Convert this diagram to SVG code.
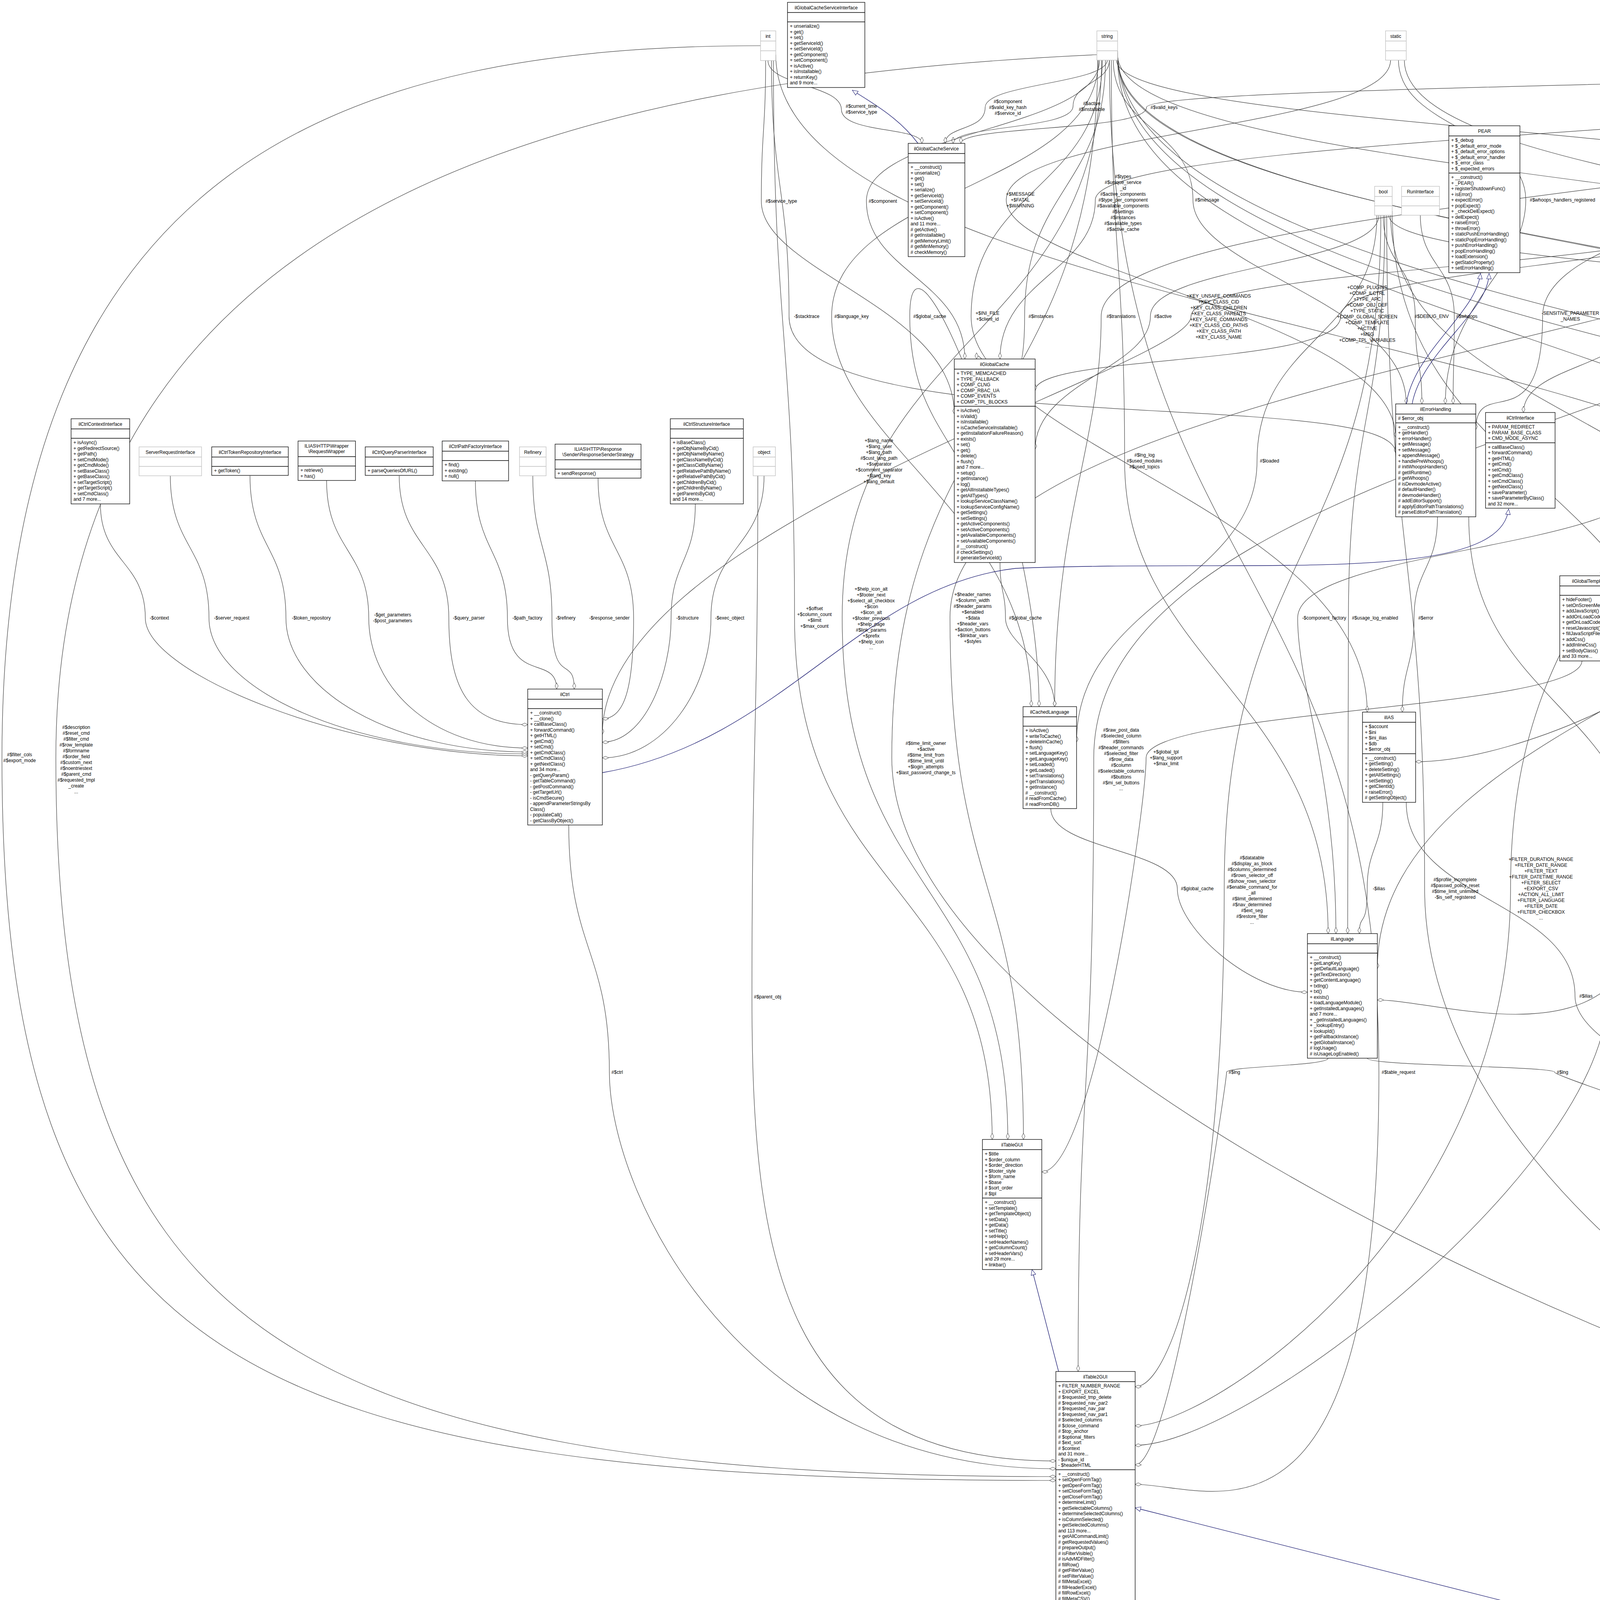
<svg xmlns="http://www.w3.org/2000/svg" width="7576" height="4387" viewBox="0 0 7576 4387">
<style>
text{font-family:"Liberation Sans",Arial,sans-serif;font-size:12px;fill:#000}
.t{text-anchor:middle}
.l{text-anchor:middle}
.b{fill:#fff;stroke:#000;stroke-width:1.3}
.g{fill:#fff;stroke:#bfbfbf;stroke-width:1.3}
.s{stroke:#000;stroke-width:1.3}
.sg{stroke:#bfbfbf;stroke-width:1.3}
.f{fill:#bfbfbf;stroke:#000;stroke-width:1.3}
.e path{fill:none;stroke:#404040;stroke-width:1.2;marker-end:url(#d)}
.i path{fill:none;stroke:#191970;stroke-width:1.3;marker-end:url(#t)}
</style>
<defs>
<marker id="d" markerWidth="18" markerHeight="10" refX="17" refY="5" orient="auto" markerUnits="userSpaceOnUse"><path d="M1,5 L9,1 L17,5 L9,9 Z" fill="#fff" stroke="#404040"/></marker>
<marker id="t" markerWidth="16" markerHeight="14" refX="15" refY="7" orient="auto" markerUnits="userSpaceOnUse"><path d="M1,1 L15,7 L1,13 Z" fill="#fff" stroke="#191970"/></marker>
</defs>
<rect width="7576" height="4387" fill="#fff"/>

<g id="connectors">
<g class="e">
<path d="M1966,155 C1966,218 2154,218 2154,280 S2360,324 2360,367"/>
<path d="M2835,153 C2835,214 2522,214 2522,275 S2420,321 2420,367"/>
<path d="M2840,153 C2840,212 2747,212 2747,272 S2440,320 2440,367"/>
<path d="M5378,153 C5378,214 2935,214 2935,275 S2460,321 2460,367"/>
<path d="M1960,155 C1960,335 1949,335 1949,515 S2443,788 2443,1060"/>
<path d="M2815,153 C2815,334 2218,334 2218,515 S2470,717 2470,919"/>
<path d="M3560,153 C3560,332 2576,332 2576,512 S3573,816 3573,1120"/>
<path d="M5365,153 C5365,332 2804,332 2804,512 S2560,716 2560,919"/>
<path d="M2850,153 C2850,332 3054,332 3054,512 S3600,773 3600,1034"/>
<path d="M3580,153 C3580,332 3906,332 3906,512 S3700,773 3700,1034"/>
<path d="M2858,153 C2858,332 4808,332 4808,512 S5030,780 5030,1048"/>
<path d="M5370,153 C5370,333 5077,333 5077,513 S5080,780 5080,1048"/>
<path d="M5390,153 C5390,332 5369,332 5369,512 S5300,784 5300,1056"/>
<path d="M1975,155 C1975,482 2020,482 2020,810 S3573,985 3573,1160"/>
<path d="M2812,153 C2812,482 2129,482 2129,810 S2640,1310 2640,1809"/>
<path d="M2520,1440 C2520,1128 2329,1128 2329,810 S2660,1310 2660,1809"/>
<path d="M2822,153 C2822,482 2486,482 2486,810 S3500,1316 3500,1823"/>
<path d="M2830,153 C2830,482 2623,482 2623,810 S2500,865 2500,919"/>
<path d="M5360,153 C5360,482 2819,482 2819,810 S2700,1310 2700,1809"/>
<path d="M3530,550 C3530,680 2945,680 2945,810 S2650,980 2650,1150"/>
<path d="M4420,550 C4420,680 3049,680 3049,810 S1542,1345 1542,1880"/>
<path d="M4425,550 C4425,680 3432,680 3432,810 S2650,905 2650,1000"/>
<path d="M3541,550 C3541,680 3623,680 3623,810 S3640,922 3640,1034"/>
<path d="M3636,550 C3636,680 3723,680 3723,810 S3720,922 3720,1034"/>
<path d="M5395,153 C5395,482 3949,482 3949,810 S3778,955 3778,1100"/>
<path d="M4440,550 C4440,680 4191,680 4191,810 S3900,933 3900,1056"/>
<path d="M4455,550 C4455,680 4437,680 4437,810 S4100,1142 4100,1474"/>
<path d="M3555,550 C3555,680 4822,680 4822,810 S5050,929 5050,1048"/>
<path d="M2845,153 C2845,666 2879,666 2879,1180 S3400,1785 3400,2390"/>
<path d="M3525,550 C3525,865 3218,865 3218,1180 S2756,1540 2756,1900"/>
<path d="M4460,550 C4460,865 4569,865 4569,1180 S5090,1515 5090,1850"/>
<path d="M5358,153 C5358,666 4819,666 4819,1180 S3526,1830 3526,2480"/>
<path d="M3595,153 C3595,482 5136,482 5136,810 S5340,933 5340,1056"/>
<path d="M6330,639 C6330,725 5365,725 5365,810 S5150,1283 5150,1756"/>
<path d="M2861,140 C2861,475 5415,475 5415,810 S5200,1283 5200,1756"/>
<path d="M5400,153 C5400,482 5575,482 5575,810 S5250,1283 5250,1756"/>
<path d="M5404,150 C5404,480 5833,480 5833,810 S6060,1348 6060,1887"/>
<path d="M6213,552 L6213,1072"/>
<path d="M5404,140 C5404,475 6666,475 6666,810 S6500,1265 6500,1721"/>
<path d="M2861,145 C2861,662 5604,662 5604,1180 S5680,1787 5680,2395"/>
<path d="M2861,150 C2861,665 5666,665 5666,1180 S5720,1787 5720,2395"/>
<path d="M5404,145 C5404,662 5997,662 5997,1180 S5760,1787 5760,2395"/>
<path d="M6400,639 C6400,910 6317,910 6317,1180 S5849,1815 5849,2450"/>
<path d="M4466,520 C4466,850 6394,850 6394,1180 S6540,1450 6540,1721"/>
<path d="M6520,639 C6520,910 6572,910 6572,1180 S6580,1450 6580,1721"/>
<path d="M4466,540 C4466,1060 5453,1060 5453,1580 S5652,2040 5652,2500"/>
<path d="M5074,1309 C5074,1449 5098,1449 5098,1582 S5110,1669 5110,1756"/>
<path d="M5330,1303 C5330,1445 5257,1445 5257,1582 S5307,1716 5307,1850"/>
<path d="M5450,1303 C5450,1445 5727,1445 5727,1582 S6040,1735 6040,1887"/>
<path d="M6350,635 C6350,1110 5890,1110 5890,1582 S6080,1735 6080,1887"/>
<path d="M6170,1290 C6170,1438 6148,1438 6148,1582 S6110,1735 6110,1887"/>
<path d="M6220,1290 C6220,1438 6345,1438 6345,1582 S6374,1681 6374,1780"/>
<path d="M6540,635 C6540,1110 6630,1110 6630,1582 S6600,2003 6600,2424"/>
<path d="M5404,130 C5404,856 6835,856 6835,1582 S5849,2741 5849,3900"/>
<path d="M6160,1290 C6160,1617 5610,1617 5610,1940 S5660,2168 5660,2395"/>
<path d="M6190,1290 C6190,1617 5950,1617 5950,1940 S5849,2220 5849,2500"/>
<path d="M6240,1290 C6240,1617 6308,1617 6308,1940 S6520,2182 6520,2424"/>
<path d="M6548,635 C6548,1290 6680,1290 6680,1940 S5866,2445 5866,2950"/>
<path d="M2861,135 C2861,1038 6818,1038 6818,1940 S5849,2845 5849,3750"/>
<path d="M5404,135 C5404,1038 6994,1038 6994,1940 S5849,2870 5849,3800"/>
<path d="M5404,128 C5404,1034 7182,1034 7182,1940 S5849,2885 5849,3830"/>
<path d="M2861,130 C2861,1035 7364,1035 7364,1940 S6947,2865 6947,3790"/>
<path d="M5404,125 C5404,1033 7495,1033 7495,1940 S6947,2875 6947,3810"/>
<path d="M5750,2047 L5750,2395"/>
<path d="M6070,1989 C6070,2135 5980,2135 5980,2275 S5849,2412 5849,2550"/>
<path d="M6250,1290 C6250,1785 6240,1785 6240,2275 S5866,2588 5866,2900"/>
<path d="M6540,2156 C6540,2219 6530,2219 6530,2275 S6580,2350 6580,2424"/>
<path d="M5200,2119 C5200,2339 5540,2339 5540,2550 S5636,2735 5636,2920"/>
<path d="M6100,1989 C6100,2273 6080,2273 6080,2550 S5866,2775 5866,3000"/>
<path d="M6450,2156 C6450,2357 6405,2357 6405,2550 S5866,2800 5866,3050"/>
<path d="M5750,2698 L5750,2777"/>
<path d="M6520,2671 C6520,2712 6405,2712 6405,2745 S5866,2922 5866,3100"/>
<path d="M6800,3900 C6800,4064 5750,4064 5750,4225 S5300,4330 4905,4330"/>
<path d="M257,1290 C257,1438 372,1438 372,1582 S900,1935 1351,1935"/>
<path d="M436,1218 C436,1400 535,1400 535,1582 S900,1930 1351,1930"/>
<path d="M640,1218 C640,1400 732,1400 732,1582 S1000,1925 1351,1925"/>
<path d="M836,1230 C836,1409 944,1409 944,1582 S1100,1915 1351,1915"/>
<path d="M1022,1218 C1022,1400 1149,1400 1149,1582 S1200,1855 1351,1855"/>
<path d="M1217,1231 C1217,1409 1299,1409 1299,1582 S1425,1673 1425,1764"/>
<path d="M1364,1218 C1364,1400 1413,1400 1413,1582 S1470,1673 1470,1764"/>
<path d="M1531,1224 C1531,1405 1622,1405 1622,1582 S1600,1840 1542,1840"/>
<path d="M1780,1290 C1780,1438 1718,1438 1718,1582 S1650,1900 1542,1900"/>
<path d="M1956,1218 C1956,1400 1820,1400 1820,1582 S1700,1940 1542,1940"/>
<path d="M1456,2112 C1456,2432 1560,2432 1560,2745 S1900,3760 2703,3760"/>
<path d="M1940,1218 C1940,1885 1925,1885 1925,2552 S2000,3740 2703,3740"/>
<path d="M1947,117 C900,117 5,400 5,1940 S600,3790 2703,3790"/>
<path d="M2808,140 C1500,200 143,500 143,1940 S700,3780 2703,3780"/>
<path d="M1980,155 C1980,868 2034,868 2034,1580 S2540,2249 2540,2917"/>
<path d="M2820,153 C2820,866 2156,866 2156,1580 S2580,2249 2580,2917"/>
<path d="M5350,153 C5350,866 2432,866 2432,1580 S2620,2249 2620,2917"/>
<path d="M2810,150 C2810,1045 2283,1045 2283,1940 S5000,3850 5649,3850"/>
<path d="M2560,1440 C2560,1515 2574,1515 2574,1582 S2700,1696 2700,1809"/>
<path d="M4220,1224 C4220,1405 3322,1405 3322,1582 S3420,1986 3420,2390"/>
<path d="M3545,550 C3545,1066 3452,1066 3452,1582 S3450,1986 3450,2390"/>
<path d="M3680,1323 C3680,1456 3620,1456 3620,1582 S3590,1703 3590,1823"/>
<path d="M5020,1309 C5020,1449 4385,1449 4385,1582 S3900,1950 3624,1950"/>
<path d="M3560,550 C3560,1066 4495,1066 4495,1582 S5300,2550 5652,2550"/>
<path d="M4300,1224 C4300,1405 4697,1405 4697,1582 S4900,1950 5090,1950"/>
<path d="M1986,140 C1986,861 4872,861 4872,1582 S5400,2850 5636,2850"/>
<path d="M2861,148 C2861,865 4957,865 4957,1582 S5400,2880 5636,2880"/>
<path d="M5353,140 C5353,1040 2800,1040 2800,1940 S2760,2726 2760,3511"/>
<path d="M4050,1691 C4050,1817 2934,1817 2934,1940 S2800,3000 2667,3000"/>
<path d="M3564,540 C3564,1240 4322,1240 4322,1940 S5300,2960 5636,2960"/>
<path d="M4466,530 C4466,1235 4519,1235 4519,1940 S5300,2990 5636,2990"/>
<path d="M3535,550 C3535,1413 3134,1413 3134,2275 S3000,3550 2906,3550"/>
<path d="M2690,2070 C2690,2175 3014,2175 3014,2275 S3200,2540 3347,2540"/>
<path d="M3540,2054 C3540,2169 3500,2169 3500,2275 S3480,2333 3480,2390"/>
<path d="M3550,550 C3550,1413 3647,1413 3647,2275 S5000,3880 5649,3880"/>
<path d="M4430,550 C4430,1413 3867,1413 3867,2275 S3100,3650 2906,3650"/>
<path d="M3760,1323 C3760,1803 4210,1803 4210,2275 S3700,2560 3526,2560"/>
<path d="M4450,550 C4450,1413 4375,1413 4375,2275 S5000,3900 5649,3900"/>
<path d="M3600,2054 C3600,2306 4032,2306 4032,2550 S5300,3100 5636,3100"/>
<path d="M4130,1691 C4130,2122 4115,2122 4115,2550 S3200,3700 2906,3700"/>
<path d="M3400,2709 C3400,2729 3140,2729 3140,2745 S3000,3750 2906,3750"/>
<path d="M2840,150 C2840,1448 3530,1448 3530,2745 S3100,3800 2906,3800"/>
<path d="M3500,2709 C3500,2729 3980,2729 3980,2745 S5300,3200 5636,3200"/>
</g>
<g class="i">
<path d="M2350,367 C2300,300 2230,262 2182,231"/>
<path d="M3600,1034 C3620,900 3780,800 3790,700"/>
<path d="M3615,1034 C3640,900 3810,800 3812,700"/>
<path d="M1542,1978 C2000,1900 2200,1500 2600,1455 C3200,1430 3840,1500 3862,1303"/>
<path d="M5060,1048 C5050,900 4980,750 4962,607"/>
<path d="M2710,3511 L2642,3250"/>
<path d="M4764,4330 L2906,3860"/>
<path d="M5749,3461 L5749,3386"/>
<path d="M6791,3790 L5868,3160"/>
<path d="M6797,3783 L5872,3150"/>
</g>
<g id="labels">
<text class="l" x="2205" y="276"><tspan x="2205">#$current_time</tspan><tspan x="2205" dy="15">#$service_type</tspan></text>
<text class="l" x="2580" y="264"><tspan x="2580">#$component</tspan><tspan x="2580" dy="15">#$valid_key_hash</tspan><tspan x="2580" dy="15">#$service_id</tspan></text>
<text class="l" x="2795" y="269"><tspan x="2795">#$active</tspan><tspan x="2795" dy="15">#$installable</tspan></text>
<text class="l" x="2980" y="279">#$valid_keys</text>
<text class="l" x="2000" y="519">#$service_type</text>
<text class="l" x="2260" y="519">#$component</text>
<text class="l" x="2612" y="501"><tspan x="2612">+$MESSAGE</tspan><tspan x="2612" dy="15">+$FATAL</tspan><tspan x="2612" dy="15">+$WARNING</tspan></text>
<text class="l" x="2875" y="456"><tspan x="2875">#$types</tspan><tspan x="2875" dy="15">#$unique_service</tspan><tspan x="2875" dy="15">_id</tspan><tspan x="2875" dy="15">#$active_components</tspan><tspan x="2875" dy="15">#$type_per_component</tspan><tspan x="2875" dy="15">#$available_components</tspan><tspan x="2875" dy="15">#$settings</tspan><tspan x="2875" dy="15">#$instances</tspan><tspan x="2875" dy="15">#$available_types</tspan><tspan x="2875" dy="15">#$active_cache</tspan></text>
<text class="l" x="3090" y="516">#$message</text>
<text class="l" x="4000" y="516">#$whoops_handlers_registered</text>
<text class="l" x="4840" y="516">+$module</text>
<text class="l" x="5135" y="510"><tspan x="5135">-$settings_cache</tspan><tspan x="5135" dy="15">-$value_type</tspan></text>
<text class="l" x="5405" y="516">+$setting</text>
<text class="l" x="2065" y="814">-$stacktrace</text>
<text class="l" x="2180" y="814">#$language_key</text>
<text class="l" x="2380" y="814">#$global_cache</text>
<text class="l" x="2528" y="806"><tspan x="2528">+$INI_FILE</tspan><tspan x="2528" dy="15">+$client_id</tspan></text>
<text class="l" x="2665" y="814">#$instances</text>
<text class="l" x="2870" y="814">#$translations</text>
<text class="l" x="2977" y="814">#$active</text>
<text class="l" x="3120" y="762"><tspan x="3120">+KEY_UNSAFE_COMMANDS</tspan><tspan x="3120" dy="15">+KEY_CLASS_CID</tspan><tspan x="3120" dy="15">+KEY_CLASS_CHILDREN</tspan><tspan x="3120" dy="15">+KEY_CLASS_PARENTS</tspan><tspan x="3120" dy="15">+KEY_SAFE_COMMANDS</tspan><tspan x="3120" dy="15">+KEY_CLASS_CID_PATHS</tspan><tspan x="3120" dy="15">+KEY_CLASS_PATH</tspan><tspan x="3120" dy="15">+KEY_CLASS_NAME</tspan></text>
<text class="l" x="3500" y="740"><tspan x="3500">+COMP_PLUGINS</tspan><tspan x="3500" dy="15">+COMP_ILCTRL</tspan><tspan x="3500" dy="15">+TYPE_APC</tspan><tspan x="3500" dy="15">+COMP_OBJ_DEF</tspan><tspan x="3500" dy="15">+TYPE_STATIC</tspan><tspan x="3500" dy="15">+COMP_GLOBAL_SCREEN</tspan><tspan x="3500" dy="15">+COMP_TEMPLATE</tspan><tspan x="3500" dy="15">+ACTIVE</tspan><tspan x="3500" dy="15">+MSG</tspan><tspan x="3500" dy="15">+COMP_TPL_VARIABLES</tspan><tspan x="3500" dy="15">...</tspan></text>
<text class="l" x="3665" y="814">#$DEBUG_ENV</text>
<text class="l" x="3755" y="814">#$whoops</text>
<text class="l" x="4020" y="806"><tspan x="4020">-SENSITIVE_PARAMETER</tspan><tspan x="4020" dy="15">_NAMES</tspan></text>
<text class="l" x="4265" y="740"><tspan x="4265">+CMD_MODE_HTML</tspan><tspan x="4265" dy="15">+PARAM_CMD</tspan><tspan x="4265" dy="15">+PARAM_CMD_FALLBACK</tspan><tspan x="4265" dy="15">+PARAM_CMD_MODE</tspan><tspan x="4265" dy="15">+PARAM_CMD_CLASS</tspan><tspan x="4265" dy="15">+CMD_POST</tspan><tspan x="4265" dy="15">+CMD_MODE_PROCESS</tspan><tspan x="4265" dy="15">+PROTECTED_PARAMETERS</tspan><tspan x="4265" dy="15">+PARAM_CID_PATH</tspan><tspan x="4265" dy="15">+PARAM_CSRF_TOKEN</tspan><tspan x="4265" dy="15">...</tspan></text>
<text class="l" x="4515" y="777"><tspan x="4515">+MESSAGE_TYPE_SUCCESS</tspan><tspan x="4515" dy="15">+MESSAGE_TYPE_FAILURE</tspan><tspan x="4515" dy="15">+MESSAGE_TYPE_INFO</tspan><tspan x="4515" dy="15">+MESSAGE_TYPES</tspan><tspan x="4515" dy="15">+MESSAGE_TYPE_QUESTION</tspan><tspan x="4515" dy="15">+DEFAULT_BLOCK</tspan></text>
<text class="l" x="4880" y="814">#$cache_disabled</text>
<text class="l" x="2930" y="1169"><tspan x="2930">#$lng_log</tspan><tspan x="2930" dy="15">#$used_modules</tspan><tspan x="2930" dy="15">#$used_topics</tspan></text>
<text class="l" x="3250" y="1184">#$loaded</text>
<text class="l" x="4640" y="1169"><tspan x="4640">+MODE_REPOSITORY</tspan><tspan x="4640" dy="15">+MODE_ADMINISTRATION</tspan><tspan x="4640" dy="15">+MODE_WORKSPACE</tspan></text>
<text class="l" x="4880" y="1162"><tspan x="4880">#$cached_modules</tspan><tspan x="4880" dy="15">#$map_modules_txt</tspan><tspan x="4880" dy="15">#$loaded_modules</tspan><tspan x="4880" dy="15">#$text</tspan></text>
<text class="l" x="2250" y="1132"><tspan x="2250">+$lang_name</tspan><tspan x="2250" dy="15">+$lang_user</tspan><tspan x="2250" dy="15">+$lang_path</tspan><tspan x="2250" dy="15">#$cust_lang_path</tspan><tspan x="2250" dy="15">+$separator</tspan><tspan x="2250" dy="15">+$comment_separator</tspan><tspan x="2250" dy="15">+$lang_key</tspan><tspan x="2250" dy="15">+$lang_default</tspan></text>
<text class="l" x="5197" y="814">+PLUGIN_BASE_PATH</text>
<text class="l" x="5385" y="814">#$db</text>
<text class="l" x="5480" y="799"><tspan x="5480">#$parent_tag_name</tspan><tspan x="5480" dy="15">#$current_tag_name</tspan><tspan x="5480" dy="15">#$current_tag</tspan></text>
<text class="l" x="5617" y="799"><tspan x="5617">#$obj_data</tspan><tspan x="5617" dy="15">#$obj_group</tspan><tspan x="5617" dy="15">#$sub_types</tspan></text>
<text class="l" x="5870" y="814">#$listener</text>
<text class="l" x="6245" y="814">-$logger</text>
<text class="l" x="6740" y="799"><tspan x="6740">#$is_assigned_cache</tspan><tspan x="6740" dy="15">-$_opsCache</tspan><tspan x="6740" dy="15">#$assigned_users_cache</tspan></text>
<text class="l" x="5640" y="1169"><tspan x="5640">#$tree_id</tspan><tspan x="5640" dy="15">-$gap</tspan><tspan x="5640" dy="15">#$root_id</tspan></text>
<text class="l" x="5740" y="1139"><tspan x="5740">#$table_obj_data</tspan><tspan x="5740" dy="15">#$tree_pk</tspan><tspan x="5740" dy="15">#$table_obj_reference</tspan><tspan x="5740" dy="15">-$lang_code</tspan><tspan x="5740" dy="15">#$obj_pk</tspan><tspan x="5740" dy="15">#$ref_pk</tspan><tspan x="5740" dy="15">#$table_tree</tspan></text>
<text class="l" x="6065" y="1132"><tspan x="6065">#$oc_preloaded</tspan><tspan x="6065" dy="15">#$translation_cache</tspan><tspan x="6065" dy="15">#$is_saved_cache</tspan><tspan x="6065" dy="15">#$in_tree_cache</tspan><tspan x="6065" dy="15">-$path_id_cache</tspan><tspan x="6065" dy="15">#$parent_cache</tspan><tspan x="6065" dy="15">#$parent_type_cache</tspan><tspan x="6065" dy="15">#$depth_cache</tspan></text>
<text class="l" x="6337" y="1184">#$db</text>
<text class="l" x="6465" y="1147"><tspan x="6465">+FILTER_NOT_INTERNAL</tspan><tspan x="6465" dy="15">+FILTER_ALL_GLOBAL</tspan><tspan x="6465" dy="15">+FILTER_ALL</tspan><tspan x="6465" dy="15">+FILTER_INTERNAL</tspan><tspan x="6465" dy="15">+FILTER_TEMPLATES</tspan><tspan x="6465" dy="15">+FILTER_ALL_LOCAL</tspan></text>
<text class="l" x="6592" y="1184">#$db</text>
<text class="l" x="5534" y="1508"><tspan x="5534">+TREE_TYPE_NESTED_SET</tspan><tspan x="5534" dy="15">+RELATION_PARENT</tspan><tspan x="5534" dy="15">+RELATION_CHILD</tspan><tspan x="5534" dy="15">+TREE_TYPE_MATERIALIZED</tspan><tspan x="5534" dy="15">_PATH</tspan><tspan x="5534" dy="15">#DEFAULT_LANGUAGE</tspan><tspan x="5534" dy="15">+RELATION_SIBLING</tspan><tspan x="5534" dy="15">+POS_FIRST_NODE</tspan><tspan x="5534" dy="15">+RELATION_EQUALS</tspan><tspan x="5534" dy="15">+POS_LAST_NODE</tspan><tspan x="5534" dy="15">+RELATION_NONE</tspan><tspan x="5534" dy="15">...</tspan></text>
<text class="l" x="408" y="1586">-$context</text>
<text class="l" x="593" y="1586">-$server_request</text>
<text class="l" x="797" y="1586">-$token_repository</text>
<text class="l" x="1005" y="1578"><tspan x="1005">-$get_parameters</tspan><tspan x="1005" dy="15">-$post_parameters</tspan></text>
<text class="l" x="1200" y="1586">-$query_parser</text>
<text class="l" x="1350" y="1586">-$path_factory</text>
<text class="l" x="1448" y="1586">-$refinery</text>
<text class="l" x="1560" y="1586">-$response_sender</text>
<text class="l" x="1760" y="1586">-$structure</text>
<text class="l" x="1868" y="1586">-$exec_object</text>
<text class="l" x="50" y="1936"><tspan x="50">#$filter_cols</tspan><tspan x="50" dy="15">#$export_mode</tspan></text>
<text class="l" x="195" y="1866"><tspan x="195">#$description</tspan><tspan x="195" dy="15">#$reset_cmd</tspan><tspan x="195" dy="15">#$filter_cmd</tspan><tspan x="195" dy="15">#$row_template</tspan><tspan x="195" dy="15">#$formname</tspan><tspan x="195" dy="15">#$order_field</tspan><tspan x="195" dy="15">#$custom_next</tspan><tspan x="195" dy="15">#$noentriestext</tspan><tspan x="195" dy="15">#$parent_cmd</tspan><tspan x="195" dy="15">#$requested_tmpl</tspan><tspan x="195" dy="15">_create</tspan><tspan x="195" dy="15">...</tspan></text>
<text class="l" x="2085" y="1562"><tspan x="2085">+$offset</tspan><tspan x="2085" dy="15">+$column_count</tspan><tspan x="2085" dy="15">+$limit</tspan><tspan x="2085" dy="15">+$max_count</tspan></text>
<text class="l" x="2230" y="1512"><tspan x="2230">+$help_icon_alt</tspan><tspan x="2230" dy="15">+$footer_next</tspan><tspan x="2230" dy="15">+$select_all_checkbox</tspan><tspan x="2230" dy="15">+$icon</tspan><tspan x="2230" dy="15">+$icon_alt</tspan><tspan x="2230" dy="15">+$footer_previous</tspan><tspan x="2230" dy="15">+$help_page</tspan><tspan x="2230" dy="15">#$link_params</tspan><tspan x="2230" dy="15">+$prefix</tspan><tspan x="2230" dy="15">+$help_icon</tspan><tspan x="2230" dy="15">...</tspan></text>
<text class="l" x="2490" y="1526"><tspan x="2490">+$header_names</tspan><tspan x="2490" dy="15">+$column_width</tspan><tspan x="2490" dy="15">#$header_params</tspan><tspan x="2490" dy="15">+$enabled</tspan><tspan x="2490" dy="15">+$data</tspan><tspan x="2490" dy="15">+$header_vars</tspan><tspan x="2490" dy="15">+$action_buttons</tspan><tspan x="2490" dy="15">+$linkbar_vars</tspan><tspan x="2490" dy="15">+$styles</tspan></text>
<text class="l" x="2370" y="1907"><tspan x="2370">#$time_limit_owner</tspan><tspan x="2370" dy="15">+$active</tspan><tspan x="2370" dy="15">#$time_limit_from</tspan><tspan x="2370" dy="15">#$time_limit_until</tspan><tspan x="2370" dy="15">+$login_attempts</tspan><tspan x="2370" dy="15">+$last_password_change_ts</tspan></text>
<text class="l" x="1965" y="2556">#$parent_obj</text>
<text class="l" x="1580" y="2749">#$ctrl</text>
<text class="l" x="2625" y="1586">#$global_cache</text>
<text class="l" x="3390" y="1586">-$component_factory</text>
<text class="l" x="3520" y="1586">#$usage_log_enabled</text>
<text class="l" x="3650" y="1586">#$error</text>
<text class="l" x="4420" y="1586">#$setting</text>
<text class="l" x="4535" y="1586">#$use_cache</text>
<text class="l" x="4765" y="1586">#$component_factory</text>
<text class="l" x="4910" y="1556"><tspan x="4910">#$ref_id</tspan><tspan x="4910" dy="15">#$max_desc</tspan><tspan x="4910" dy="15">#$max_title</tspan><tspan x="4910" dy="15">#$owner</tspan><tspan x="4910" dy="15">#$id</tspan></text>
<text class="l" x="5025" y="1534"><tspan x="5025">#$create_date</tspan><tspan x="5025" dy="15">#$desc</tspan><tspan x="5025" dy="15">#$title</tspan><tspan x="5025" dy="15">#$long_desc</tspan><tspan x="5025" dy="15">#$import_id</tspan><tspan x="5025" dy="15">-$untranslatedTitle</tspan><tspan x="5025" dy="15">#$type</tspan><tspan x="5025" dy="15">#$last_update</tspan></text>
<text class="l" x="2870" y="1873"><tspan x="2870">#$raw_post_data</tspan><tspan x="2870" dy="15">#$selected_column</tspan><tspan x="2870" dy="15">#$filters</tspan><tspan x="2870" dy="15">#$header_commands</tspan><tspan x="2870" dy="15">#$selected_filter</tspan><tspan x="2870" dy="15">#$row_data</tspan><tspan x="2870" dy="15">#$column</tspan><tspan x="2870" dy="15">#$selectable_columns</tspan><tspan x="2870" dy="15">#$buttons</tspan><tspan x="2870" dy="15">#$mi_sel_buttons</tspan><tspan x="2870" dy="15">...</tspan></text>
<text class="l" x="2985" y="1929"><tspan x="2985">+$global_tpl</tspan><tspan x="2985" dy="15">+$lang_support</tspan><tspan x="2985" dy="15">+$max_limit</tspan></text>
<text class="l" x="4390" y="1899"><tspan x="4390">#$register</tspan><tspan x="4390" dy="15">#$call_by_reference</tspan><tspan x="4390" dy="15">#$referenced</tspan><tspan x="4390" dy="15">#$offline</tspan><tspan x="4390" dy="15">-$process_auto</tspan><tspan x="4390" dy="15">_rating</tspan><tspan x="4390" dy="15">#$add_dots</tspan></text>
<text class="l" x="4580" y="1922"><tspan x="4580">+TABLE_OBJECT_DATA</tspan><tspan x="4580" dy="15">+LONG_DESC_LENGTH</tspan><tspan x="4580" dy="15">+TITLE_LENGTH</tspan><tspan x="4580" dy="15">+DESC_LENGTH</tspan></text>
<text class="l" x="3205" y="2200"><tspan x="3205">#$datatable</tspan><tspan x="3205" dy="15">#$display_as_block</tspan><tspan x="3205" dy="15">#$columns_determined</tspan><tspan x="3205" dy="15">#$rows_selector_off</tspan><tspan x="3205" dy="15">#$show_rows_selector</tspan><tspan x="3205" dy="15">#$enable_command_for</tspan><tspan x="3205" dy="15">_all</tspan><tspan x="3205" dy="15">#$limit_determined</tspan><tspan x="3205" dy="15">#$nav_determined</tspan><tspan x="3205" dy="15">#$ext_seg</tspan><tspan x="3205" dy="15">#$restore_filter</tspan><tspan x="3205" dy="15">...</tspan></text>
<text class="l" x="3065" y="2279">#$global_cache</text>
<text class="l" x="3530" y="2279">-$ilias</text>
<text class="l" x="3725" y="2256"><tspan x="3725">#$profile_incomplete</tspan><tspan x="3725" dy="15">#$passwd_policy_reset</tspan><tspan x="3725" dy="15">#$time_limit_unlimited</tspan><tspan x="3725" dy="15">-$is_self_registered</tspan></text>
<text class="l" x="3945" y="2204"><tspan x="3945">+FILTER_DURATION_RANGE</tspan><tspan x="3945" dy="15">+FILTER_DATE_RANGE</tspan><tspan x="3945" dy="15">+FILTER_TEXT</tspan><tspan x="3945" dy="15">+FILTER_DATETIME_RANGE</tspan><tspan x="3945" dy="15">+FILTER_SELECT</tspan><tspan x="3945" dy="15">+EXPORT_CSV</tspan><tspan x="3945" dy="15">+ACTION_ALL_LIMIT</tspan><tspan x="3945" dy="15">+FILTER_LANGUAGE</tspan><tspan x="3945" dy="15">+FILTER_DATE</tspan><tspan x="3945" dy="15">+FILTER_CHECKBOX</tspan><tspan x="3945" dy="15">...</tspan></text>
<text class="l" x="4240" y="2279">#$error</text>
<text class="l" x="4430" y="2271"><tspan x="4430">+PASSWD_CRYPTED</tspan><tspan x="4430" dy="15">+PASSWD_PLAIN</tspan></text>
<text class="l" x="4060" y="2554">#$ilias</text>
<text class="l" x="4150" y="2554">#$main_tpl</text>
<text class="l" x="3160" y="2749">#$lng</text>
<text class="l" x="3580" y="2749">#$table_request</text>
<text class="l" x="4000" y="2749">#$lng</text>
<text class="l" x="5132" y="1586">#$settings</text>
<text class="l" x="5335" y="1586">#$component_repository</text>
<text class="l" x="5805" y="1586">#$component_repository</text>
<text class="l" x="5910" y="1586">#$db</text>
<text class="l" x="6180" y="1586">#$logger</text>
<text class="l" x="6365" y="1586">#$log</text>
<text class="l" x="6650" y="1586">#$db</text>
<text class="l" x="6875" y="1586">+$objectList</text>
<text class="l" x="5630" y="1944">#$log</text>
<text class="l" x="5982" y="1944">#$logger</text>
<text class="l" x="6340" y="1944">#$logger</text>
<text class="l" x="6700" y="1944">#$db</text>
<text class="l" x="6883" y="1873"><tspan x="6883">#$ext_account</tspan><tspan x="6883" dy="15">+$email</tspan><tspan x="6883" dy="15">+$phone_office</tspan><tspan x="6883" dy="15">+$institution</tspan><tspan x="6883" dy="15">#$first_login</tspan><tspan x="6883" dy="15">+$longitude</tspan><tspan x="6883" dy="15">+$hobby</tspan><tspan x="6883" dy="15">+$zipcode</tspan><tspan x="6883" dy="15">#$passwd_type</tspan><tspan x="6883" dy="15">+$referral_comment</tspan><tspan x="6883" dy="15">...</tspan></text>
<text class="l" x="7072" y="1944">#$personal_image_cache</text>
<text class="l" x="7250" y="1903"><tspan x="7250">+$prefs</tspan><tspan x="7250" dy="15">+$user_defined_data</tspan><tspan x="7250" dy="15">#$interests_help</tspan><tspan x="7250" dy="15">_offered</tspan><tspan x="7250" dy="15">#$interests_general</tspan><tspan x="7250" dy="15">#$oldPrefs</tspan><tspan x="7250" dy="15">#$interests_help</tspan><tspan x="7250" dy="15">_looking</tspan></text>
<text class="l" x="7415" y="1918"><tspan x="7415">+$lang_user</tspan><tspan x="7415" dy="15">+$lang_path</tspan><tspan x="7415" dy="15">+$separator</tspan><tspan x="7415" dy="15">+$lang_default</tspan></text>
<text class="l" x="7536" y="1944">+$languages</text>
<text class="l" x="5795" y="2279">-$tree_impl</text>
<text class="l" x="6035" y="2279">#$eventHandler</text>
<text class="l" x="6272" y="2271"><tspan x="6272">#$obj_log</tspan><tspan x="6272" dy="15">#$log</tspan></text>
<text class="l" x="6570" y="2279">#$rbacreview</text>
<text class="l" x="5590" y="2554">#$obj_definition</text>
<text class="l" x="6145" y="2554">#$app_event_handler</text>
<text class="l" x="6450" y="2554">#$rbac_review</text>
<text class="l" x="5775" y="2749">#$tree</text>
<text class="l" x="6450" y="2749">#$rbac_admin</text>
<text class="l" x="5775" y="3431">#$user</text>
<text class="l" x="5750" y="4244">#$folder</text>
</g>
</g>

<g id="n_int"><rect class="g" x="1947" y="79" width="39" height="76"/><text class="t" x="1966" y="97">int</text><line class="sg" x1="1947" y1="105" x2="1986" y2="105"/><line class="sg" x1="1947" y1="130" x2="1986" y2="130"/></g>
<g id="n_string"><rect class="g" x="2808" y="79" width="53" height="75"/><text class="t" x="2834" y="97">string</text><line class="sg" x1="2808" y1="105" x2="2861" y2="105"/><line class="sg" x1="2808" y1="130" x2="2861" y2="130"/></g>
<g id="n_static"><rect class="g" x="3547" y="79" width="53" height="75"/><text class="t" x="3573" y="97">static</text><line class="sg" x1="3547" y1="105" x2="3600" y2="105"/><line class="sg" x1="3547" y1="130" x2="3600" y2="130"/></g>
<g id="n_array"><rect class="g" x="5353" y="79" width="51" height="75"/><text class="t" x="5378" y="97">array</text><line class="sg" x1="5353" y1="105" x2="5404" y2="105"/><line class="sg" x1="5353" y1="130" x2="5404" y2="130"/></g>
<g id="n_bool"><rect class="g" x="3519" y="477" width="45" height="74"/><text class="t" x="3541" y="495">bool</text><line class="sg" x1="3519" y1="503" x2="3564" y2="503"/><line class="sg" x1="3519" y1="527" x2="3564" y2="527"/></g>
<g id="n_run"><rect class="g" x="3588" y="477" width="97" height="74"/><text class="t" x="3636" y="495">RunInterface</text><line class="sg" x1="3588" y1="503" x2="3685" y2="503"/><line class="sg" x1="3588" y1="527" x2="3685" y2="527"/></g>
<g id="n_const"><rect class="g" x="4415" y="477" width="51" height="74"/><text class="t" x="4440" y="495">const</text><line class="sg" x1="4415" y1="503" x2="4466" y2="503"/><line class="sg" x1="4415" y1="527" x2="4466" y2="527"/></g>
<g id="n_Logger"><rect class="g" x="6183" y="477" width="61" height="75"/><text class="t" x="6213" y="495">Logger</text><line class="sg" x1="6183" y1="503" x2="6244" y2="503"/><line class="sg" x1="6183" y1="527" x2="6244" y2="527"/></g>
<g id="n_object"><rect class="g" x="1928" y="1144" width="57" height="74"/><text class="t" x="1956" y="1162">object</text><line class="sg" x1="1928" y1="1170" x2="1985" y2="1170"/><line class="sg" x1="1928" y1="1194" x2="1985" y2="1194"/></g>
<g id="n_ServerRequestInterface"><rect class="g" x="356" y="1144" width="160" height="74"/><text class="t" x="436" y="1162">ServerRequestInterface</text><line class="sg" x1="356" y1="1170" x2="516" y2="1170"/><line class="sg" x1="356" y1="1194" x2="516" y2="1194"/></g>
<g id="n_Refinery"><rect class="g" x="1330" y="1144" width="68" height="74"/><text class="t" x="1364" y="1162">Refinery</text><line class="sg" x1="1330" y1="1170" x2="1398" y2="1170"/><line class="sg" x1="1330" y1="1194" x2="1398" y2="1194"/></g>

<g id="n_ilGlobalCacheServiceInterface" transform="translate(2016,6)"><rect class="b" width="198" height="218"/><text class="t" x="99" y="18">ilGlobalCacheServiceInterface</text><line class="s" x1="0" y1="26" x2="198" y2="26"/><line class="s" x1="0" y1="50" x2="198" y2="50"/><text y="50.5"><tspan x="6" dy="14.5">+ unserialize()</tspan><tspan x="6" dy="14.5">+ get()</tspan><tspan x="6" dy="14.5">+ set()</tspan><tspan x="6" dy="14.5">+ getServiceId()</tspan><tspan x="6" dy="14.5">+ setServiceId()</tspan><tspan x="6" dy="14.5">+ getComponent()</tspan><tspan x="6" dy="14.5">+ setComponent()</tspan><tspan x="6" dy="14.5">+ isActive()</tspan><tspan x="6" dy="14.5">+ isInstallable()</tspan><tspan x="6" dy="14.5">+ returnKey()</tspan><tspan x="6" dy="14.5">and 9 more...</tspan></text></g>

<g id="n_ilGlobalCacheService" transform="translate(2325,367)"><rect class="b" width="145" height="290"/><text class="t" x="72" y="18">ilGlobalCacheService</text><line class="s" x1="0" y1="26" x2="145" y2="26"/><line class="s" x1="0" y1="50" x2="145" y2="50"/><text y="50.5"><tspan x="6" dy="14.5">+ __construct()</tspan><tspan x="6" dy="14.5">+ unserialize()</tspan><tspan x="6" dy="14.5">+ get()</tspan><tspan x="6" dy="14.5">+ set()</tspan><tspan x="6" dy="14.5">+ serialize()</tspan><tspan x="6" dy="14.5">+ getServiceId()</tspan><tspan x="6" dy="14.5">+ setServiceId()</tspan><tspan x="6" dy="14.5">+ getComponent()</tspan><tspan x="6" dy="14.5">+ setComponent()</tspan><tspan x="6" dy="14.5">+ isActive()</tspan><tspan x="6" dy="14.5">and 11 more...</tspan><tspan x="6" dy="14.5"># getActive()</tspan><tspan x="6" dy="14.5"># getInstallable()</tspan><tspan x="6" dy="14.5"># getMemoryLimit()</tspan><tspan x="6" dy="14.5"># getMinMemory()</tspan><tspan x="6" dy="14.5"># checkMemory()</tspan></text></g>

<g id="n_ilGlobalCache" transform="translate(2443,919)"><rect class="b" width="207" height="521"/><text class="t" x="103" y="18">ilGlobalCache</text><line class="s" x1="0" y1="26" x2="207" y2="26"/><text y="26.5"><tspan x="6" dy="14.5">+ TYPE_MEMCACHED</tspan><tspan x="6" dy="14.5">+ TYPE_FALLBACK</tspan><tspan x="6" dy="14.5">+ COMP_CLNG</tspan><tspan x="6" dy="14.5">+ COMP_RBAC_UA</tspan><tspan x="6" dy="14.5">+ COMP_EVENTS</tspan><tspan x="6" dy="14.5">+ COMP_TPL_BLOCKS</tspan></text><line class="s" x1="0" y1="121" x2="207" y2="121"/><text y="121.5"><tspan x="6" dy="14.5">+ isActive()</tspan><tspan x="6" dy="14.5">+ isValid()</tspan><tspan x="6" dy="14.5">+ isInstallable()</tspan><tspan x="6" dy="14.5">+ isCacheServiceInstallable()</tspan><tspan x="6" dy="14.5">+ getInstallationFailureReason()</tspan><tspan x="6" dy="14.5">+ exists()</tspan><tspan x="6" dy="14.5">+ set()</tspan><tspan x="6" dy="14.5">+ get()</tspan><tspan x="6" dy="14.5">+ delete()</tspan><tspan x="6" dy="14.5">+ flush()</tspan><tspan x="6" dy="14.5">and 7 more...</tspan><tspan x="6" dy="14.5">+ setup()</tspan><tspan x="6" dy="14.5">+ getInstance()</tspan><tspan x="6" dy="14.5">+ log()</tspan><tspan x="6" dy="14.5">+ getAllInstallableTypes()</tspan><tspan x="6" dy="14.5">+ getAllTypes()</tspan><tspan x="6" dy="14.5">+ lookupServiceClassName()</tspan><tspan x="6" dy="14.5">+ lookupServiceConfigName()</tspan><tspan x="6" dy="14.5">+ getSettings()</tspan><tspan x="6" dy="14.5">+ setSettings()</tspan><tspan x="6" dy="14.5">+ getActiveComponents()</tspan><tspan x="6" dy="14.5">+ setActiveComponents()</tspan><tspan x="6" dy="14.5">+ getAvailableComponents()</tspan><tspan x="6" dy="14.5">+ setAvailableComponents()</tspan><tspan x="6" dy="14.5"># __construct()</tspan><tspan x="6" dy="14.5"># checkSettings()</tspan><tspan x="6" dy="14.5"># generateServiceId()</tspan></text></g>

<g id="n_ilCtrlContextInterface" transform="translate(182,1072)"><rect class="b" width="150" height="218"/><text class="t" x="75" y="18">ilCtrlContextInterface</text><line class="s" x1="0" y1="26" x2="150" y2="26"/><line class="s" x1="0" y1="50" x2="150" y2="50"/><text y="50.5"><tspan x="6" dy="14.5">+ isAsync()</tspan><tspan x="6" dy="14.5">+ getRedirectSource()</tspan><tspan x="6" dy="14.5">+ getPath()</tspan><tspan x="6" dy="14.5">+ setCmdMode()</tspan><tspan x="6" dy="14.5">+ getCmdMode()</tspan><tspan x="6" dy="14.5">+ setBaseClass()</tspan><tspan x="6" dy="14.5">+ getBaseClass()</tspan><tspan x="6" dy="14.5">+ setTargetScript()</tspan><tspan x="6" dy="14.5">+ getTargetScript()</tspan><tspan x="6" dy="14.5">+ setCmdClass()</tspan><tspan x="6" dy="14.5">and 7 more...</tspan></text></g>

<g id="n_ilCtrlTokenRepositoryInterface" transform="translate(542,1144)"><rect class="b" width="196" height="73"/><text class="t" x="98" y="18">ilCtrlTokenRepositoryInterface</text><line class="s" x1="0" y1="26" x2="196" y2="26"/><line class="s" x1="0" y1="50" x2="196" y2="50"/><text y="50.5"><tspan x="6" dy="14.5">+ getToken()</tspan></text></g>

<g id="n_RequestWrapper" transform="translate(763,1129)"><rect class="b" width="147" height="101"/><text class="t" x="73" y="17"><tspan x="73">ILIAS\HTTP\Wrapper</tspan><tspan x="73" dy="14">\RequestWrapper</tspan></text><line class="s" x1="0" y1="40" x2="147" y2="40"/><line class="s" x1="0" y1="64" x2="147" y2="64"/><text y="64.5"><tspan x="6" dy="14.5">+ retrieve()</tspan><tspan x="6" dy="14.5">+ has()</tspan></text></g>

<g id="n_ilCtrlQueryParserInterface" transform="translate(935,1144)"><rect class="b" width="174" height="73"/><text class="t" x="87" y="18">ilCtrlQueryParserInterface</text><line class="s" x1="0" y1="26" x2="174" y2="26"/><line class="s" x1="0" y1="50" x2="174" y2="50"/><text y="50.5"><tspan x="6" dy="14.5">+ parseQueriesOfURL()</tspan></text></g>

<g id="n_ilCtrlPathFactoryInterface" transform="translate(1132,1129)"><rect class="b" width="170" height="102"/><text class="t" x="85" y="18">ilCtrlPathFactoryInterface</text><line class="s" x1="0" y1="26" x2="170" y2="26"/><line class="s" x1="0" y1="50" x2="170" y2="50"/><text y="50.5"><tspan x="6" dy="14.5">+ find()</tspan><tspan x="6" dy="14.5">+ existing()</tspan><tspan x="6" dy="14.5">+ null()</tspan></text></g>

<g id="n_ResponseSenderStrategy" transform="translate(1421,1137)"><rect class="b" width="220" height="87"/><text class="t" x="110" y="17"><tspan x="110">ILIAS\HTTP\Response</tspan><tspan x="110" dy="14">\Sender\ResponseSenderStrategy</tspan></text><line class="s" x1="0" y1="40" x2="220" y2="40"/><line class="s" x1="0" y1="64" x2="220" y2="64"/><text y="64.5"><tspan x="6" dy="14.5">+ sendResponse()</tspan></text></g>

<g id="n_ilCtrlStructureInterface" transform="translate(1716,1072)"><rect class="b" width="187" height="218"/><text class="t" x="93" y="18">ilCtrlStructureInterface</text><line class="s" x1="0" y1="26" x2="187" y2="26"/><line class="s" x1="0" y1="50" x2="187" y2="50"/><text y="50.5"><tspan x="6" dy="14.5">+ isBaseClass()</tspan><tspan x="6" dy="14.5">+ getObjNameByCid()</tspan><tspan x="6" dy="14.5">+ getObjNameByName()</tspan><tspan x="6" dy="14.5">+ getClassNameByCid()</tspan><tspan x="6" dy="14.5">+ getClassCidByName()</tspan><tspan x="6" dy="14.5">+ getRelativePathByName()</tspan><tspan x="6" dy="14.5">+ getRelativePathByCid()</tspan><tspan x="6" dy="14.5">+ getChildrenByCid()</tspan><tspan x="6" dy="14.5">+ getChildrenByName()</tspan><tspan x="6" dy="14.5">+ getParentsByCid()</tspan><tspan x="6" dy="14.5">and 14 more...</tspan></text></g>

<g id="n_PEAR" transform="translate(3709,322)"><rect class="b" width="182" height="376"/><text class="t" x="91" y="18">PEAR</text><line class="s" x1="0" y1="26" x2="182" y2="26"/><text y="26.5"><tspan x="6" dy="14.5">+ $_debug</tspan><tspan x="6" dy="14.5">+ $_default_error_mode</tspan><tspan x="6" dy="14.5">+ $_default_error_options</tspan><tspan x="6" dy="14.5">+ $_default_error_handler</tspan><tspan x="6" dy="14.5">+ $_error_class</tspan><tspan x="6" dy="14.5">+ $_expected_errors</tspan></text><line class="s" x1="0" y1="121" x2="182" y2="121"/><text y="121.5"><tspan x="6" dy="14.5">+ __construct()</tspan><tspan x="6" dy="14.5">+ _PEAR()</tspan><tspan x="6" dy="14.5">+ registerShutdownFunc()</tspan><tspan x="6" dy="14.5">+ isError()</tspan><tspan x="6" dy="14.5">+ expectError()</tspan><tspan x="6" dy="14.5">+ popExpect()</tspan><tspan x="6" dy="14.5">+ _checkDelExpect()</tspan><tspan x="6" dy="14.5">+ delExpect()</tspan><tspan x="6" dy="14.5">+ raiseError()</tspan><tspan x="6" dy="14.5">+ throwError()</tspan><tspan x="6" dy="14.5">+ staticPushErrorHandling()</tspan><tspan x="6" dy="14.5">+ staticPopErrorHandling()</tspan><tspan x="6" dy="14.5">+ pushErrorHandling()</tspan><tspan x="6" dy="14.5">+ popErrorHandling()</tspan><tspan x="6" dy="14.5">+ loadExtension()</tspan><tspan x="6" dy="14.5">+ getStaticProperty()</tspan><tspan x="6" dy="14.5">+ setErrorHandling()</tspan></text></g>

<g id="n_AdminSetting" transform="translate(4885,418)"><rect class="b" width="141" height="188"/><text class="t" x="70" y="17"><tspan x="70">ILIAS\Administration</tspan><tspan x="70" dy="14">\Setting</tspan></text><line class="s" x1="0" y1="40" x2="141" y2="40"/><line class="s" x1="0" y1="64" x2="141" y2="64"/><text y="64.5"><tspan x="6" dy="14.5">+ getModule()</tspan><tspan x="6" dy="14.5">+ read()</tspan><tspan x="6" dy="14.5">+ get()</tspan><tspan x="6" dy="14.5">+ deleteAll()</tspan><tspan x="6" dy="14.5">+ delete()</tspan><tspan x="6" dy="14.5">+ getAll()</tspan><tspan x="6" dy="14.5">+ set()</tspan><tspan x="6" dy="14.5">+ _lookupValue()</tspan></text></g>

<g id="n_ilErrorHandling" transform="translate(3573,1034)"><rect class="b" width="205" height="289"/><text class="t" x="102" y="18">ilErrorHandling</text><line class="s" x1="0" y1="26" x2="205" y2="26"/><text y="26.5"><tspan x="6" dy="14.5"># $error_obj</tspan></text><line class="s" x1="0" y1="48.5" x2="205" y2="48.5"/><text y="49"><tspan x="6" dy="14.5">+ __construct()</tspan><tspan x="6" dy="14.5">+ getHandler()</tspan><tspan x="6" dy="14.5">+ errorHandler()</tspan><tspan x="6" dy="14.5">+ getMessage()</tspan><tspan x="6" dy="14.5">+ setMessage()</tspan><tspan x="6" dy="14.5">+ appendMessage()</tspan><tspan x="6" dy="14.5">+ handlePreWhoops()</tspan><tspan x="6" dy="14.5"># initWhoopsHandlers()</tspan><tspan x="6" dy="14.5"># getIlRuntime()</tspan><tspan x="6" dy="14.5"># getWhoops()</tspan><tspan x="6" dy="14.5"># isDevmodeActive()</tspan><tspan x="6" dy="14.5"># defaultHandler()</tspan><tspan x="6" dy="14.5"># devmodeHandler()</tspan><tspan x="6" dy="14.5"># addEditorSupport()</tspan><tspan x="6" dy="14.5"># applyEditorPathTranslations()</tspan><tspan x="6" dy="14.5"># parseEditorPathTranslation()</tspan></text></g>

<g id="n_ilCtrlInterface" transform="translate(3803,1056)"><rect class="b" width="178" height="245"/><text class="t" x="89" y="18">ilCtrlInterface</text><line class="s" x1="0" y1="26" x2="178" y2="26"/><text y="26.5"><tspan x="6" dy="14.5">+ PARAM_REDIRECT</tspan><tspan x="6" dy="14.5">+ PARAM_BASE_CLASS</tspan><tspan x="6" dy="14.5">+ CMD_MODE_ASYNC</tspan></text><line class="s" x1="0" y1="77.5" x2="178" y2="77.5"/><text y="78"><tspan x="6" dy="14.5">+ callBaseClass()</tspan><tspan x="6" dy="14.5">+ forwardCommand()</tspan><tspan x="6" dy="14.5">+ getHTML()</tspan><tspan x="6" dy="14.5">+ getCmd()</tspan><tspan x="6" dy="14.5">+ setCmd()</tspan><tspan x="6" dy="14.5">+ getCmdClass()</tspan><tspan x="6" dy="14.5">+ setCmdClass()</tspan><tspan x="6" dy="14.5">+ getNextClass()</tspan><tspan x="6" dy="14.5">+ saveParameter()</tspan><tspan x="6" dy="14.5">+ saveParameterByClass()</tspan><tspan x="6" dy="14.5">and 32 more...</tspan></text></g>

<g id="n_ilComponentFactory" transform="translate(4156,1137)"><rect class="b" width="181" height="87"/><text class="t" x="90" y="18">ilComponentFactory</text><line class="s" x1="0" y1="26" x2="181" y2="26"/><line class="s" x1="0" y1="50" x2="181" y2="50"/><text y="50.5"><tspan x="6" dy="14.5">+ getPlugin()</tspan><tspan x="6" dy="14.5">+ getActivePluginsInSlot()</tspan></text></g>

<g id="n_ilGlobalTemplateInterface" transform="translate(3993,1474)"><rect class="b" width="198" height="218"/><text class="t" x="99" y="18">ilGlobalTemplateInterface</text><line class="s" x1="0" y1="26" x2="198" y2="26"/><line class="s" x1="0" y1="50" x2="198" y2="50"/><text y="50.5"><tspan x="6" dy="14.5">+ hideFooter()</tspan><tspan x="6" dy="14.5">+ setOnScreenMessage()</tspan><tspan x="6" dy="14.5">+ addJavaScript()</tspan><tspan x="6" dy="14.5">+ addOnLoadCode()</tspan><tspan x="6" dy="14.5">+ getOnLoadCodeForAsynch()</tspan><tspan x="6" dy="14.5">+ resetJavascript()</tspan><tspan x="6" dy="14.5">+ fillJavaScriptFiles()</tspan><tspan x="6" dy="14.5">+ addCss()</tspan><tspan x="6" dy="14.5">+ addInlineCss()</tspan><tspan x="6" dy="14.5">+ setBodyClass()</tspan><tspan x="6" dy="14.5">and 33 more...</tspan></text></g>

<g id="n_ilSetting" transform="translate(4997,1048)"><rect class="b" width="154" height="261"/><text class="t" x="77" y="18">ilSetting</text><line class="s" x1="0" y1="26" x2="154" y2="26"/><line class="s" x1="0" y1="50" x2="154" y2="50"/><text y="50.5"><tspan x="6" dy="14.5">+ __construct()</tspan><tspan x="6" dy="14.5">+ getModule()</tspan><tspan x="6" dy="14.5">+ read()</tspan><tspan x="6" dy="14.5">+ get()</tspan><tspan x="6" dy="14.5">+ deleteAll()</tspan><tspan x="6" dy="14.5">+ deleteLike()</tspan><tspan x="6" dy="14.5">+ delete()</tspan><tspan x="6" dy="14.5">+ getAll()</tspan><tspan x="6" dy="14.5">+ set()</tspan><tspan x="6" dy="14.5">+ setScormDebug()</tspan><tspan x="6" dy="14.5">+ _lookupValue()</tspan><tspan x="6" dy="14.5">+ _getValueType()</tspan><tspan x="6" dy="14.5">+ _changeValueType()</tspan><tspan x="6" dy="14.5">+ _getLongerSettings()</tspan></text></g>

<g id="n_ilDBInterface" transform="translate(6314,388)"><rect class="b" width="234" height="247"/><text class="t" x="117" y="18">ilDBInterface</text><line class="s" x1="0" y1="26" x2="234" y2="26"/><line class="s" x1="0" y1="50" x2="234" y2="50"/><text y="50.5"><tspan x="6" dy="14.5">+ doesCollationSupportMB4Strings()</tspan><tspan x="6" dy="14.5">+ sanitizeMB4StringIfNotSupported()</tspan><tspan x="6" dy="14.5">+ initFromIniFile()</tspan><tspan x="6" dy="14.5">+ connect()</tspan><tspan x="6" dy="14.5">+ nextId()</tspan><tspan x="6" dy="14.5">+ createTable()</tspan><tspan x="6" dy="14.5">+ addPrimaryKey()</tspan><tspan x="6" dy="14.5">+ createSequence()</tspan><tspan x="6" dy="14.5">+ getSequenceName()</tspan><tspan x="6" dy="14.5">+ tableExists()</tspan><tspan x="6" dy="14.5">and 74 more...</tspan><tspan x="6" dy="14.5">+ getReservedWords()</tspan><tspan x="6" dy="14.5">+ isReservedWord()</tspan></text></g>

<g id="n_ilComponentRepository" transform="translate(5279,1056)"><rect class="b" width="229" height="247"/><text class="t" x="114" y="18">ilComponentRepository</text><line class="s" x1="0" y1="26" x2="229" y2="26"/><line class="s" x1="0" y1="50" x2="229" y2="50"/><text y="50.5"><tspan x="6" dy="14.5">+ hasComponent()</tspan><tspan x="6" dy="14.5">+ hasComponentId()</tspan><tspan x="6" dy="14.5">+ getComponents()</tspan><tspan x="6" dy="14.5">+ getComponentById()</tspan><tspan x="6" dy="14.5">+ getComponentByTypeAndName()</tspan><tspan x="6" dy="14.5">+ hasPluginSlotId()</tspan><tspan x="6" dy="14.5">+ getPluginSlots()</tspan><tspan x="6" dy="14.5">+ getPluginSlotById()</tspan><tspan x="6" dy="14.5">+ hasPluginId()</tspan><tspan x="6" dy="14.5">+ getPlugins()</tspan><tspan x="6" dy="14.5">+ getPluginById()</tspan><tspan x="6" dy="14.5">+ getPluginByName()</tspan><tspan x="6" dy="14.5">+ hasActivatedPlugin()</tspan></text></g>

<g id="n_ilLogger" transform="translate(6142,1072)"><rect class="b" width="110" height="218"/><text class="t" x="55" y="18">ilLogger</text><line class="s" x1="0" y1="26" x2="110" y2="26"/><line class="s" x1="0" y1="50" x2="110" y2="50"/><text y="50.5"><tspan x="6" dy="14.5">+ __construct()</tspan><tspan x="6" dy="14.5">+ isHandling()</tspan><tspan x="6" dy="14.5">+ log()</tspan><tspan x="6" dy="14.5">+ dump()</tspan><tspan x="6" dy="14.5">+ debug()</tspan><tspan x="6" dy="14.5">+ info()</tspan><tspan x="6" dy="14.5">+ notice()</tspan><tspan x="6" dy="14.5">+ warning()</tspan><tspan x="6" dy="14.5">+ error()</tspan><tspan x="6" dy="14.5">+ critical()</tspan><tspan x="6" dy="14.5">and 7 more...</tspan></text></g>

<g id="n_ilCtrl" transform="translate(1351,1764)"><rect class="b" width="191" height="348"/><text class="t" x="95" y="18">ilCtrl</text><line class="s" x1="0" y1="26" x2="191" y2="26"/><line class="s" x1="0" y1="50" x2="191" y2="50"/><text y="50.5"><tspan x="6" dy="14.5">+ __construct()</tspan><tspan x="6" dy="14.5">+ __clone()</tspan><tspan x="6" dy="14.5">+ callBaseClass()</tspan><tspan x="6" dy="14.5">+ forwardCommand()</tspan><tspan x="6" dy="14.5">+ getHTML()</tspan><tspan x="6" dy="14.5">+ getCmd()</tspan><tspan x="6" dy="14.5">+ setCmd()</tspan><tspan x="6" dy="14.5">+ getCmdClass()</tspan><tspan x="6" dy="14.5">+ setCmdClass()</tspan><tspan x="6" dy="14.5">+ getNextClass()</tspan><tspan x="6" dy="14.5">and 34 more...</tspan><tspan x="6" dy="14.5">- getQueryParam()</tspan><tspan x="6" dy="14.5">- getTableCommand()</tspan><tspan x="6" dy="14.5">- getPostCommand()</tspan><tspan x="6" dy="14.5">- getTargetUrl()</tspan><tspan x="6" dy="14.5">- isCmdSecure()</tspan><tspan x="6" dy="14.5">- appendParameterStringsBy</tspan><tspan x="6" dy="14.5">Class()</tspan><tspan x="6" dy="14.5">- populateCall()</tspan><tspan x="6" dy="14.5">- getClassByObject()</tspan></text></g>

<g id="n_ilCachedLanguage" transform="translate(2619,1809)"><rect class="b" width="137" height="261"/><text class="t" x="68" y="18">ilCachedLanguage</text><line class="s" x1="0" y1="26" x2="137" y2="26"/><line class="s" x1="0" y1="50" x2="137" y2="50"/><text y="50.5"><tspan x="6" dy="14.5">+ isActive()</tspan><tspan x="6" dy="14.5">+ writeToCache()</tspan><tspan x="6" dy="14.5">+ deleteInCache()</tspan><tspan x="6" dy="14.5">+ flush()</tspan><tspan x="6" dy="14.5">+ setLanguageKey()</tspan><tspan x="6" dy="14.5">+ getLanguageKey()</tspan><tspan x="6" dy="14.5">+ setLoaded()</tspan><tspan x="6" dy="14.5">+ getLoaded()</tspan><tspan x="6" dy="14.5">+ setTranslations()</tspan><tspan x="6" dy="14.5">+ getTranslations()</tspan><tspan x="6" dy="14.5">+ getInstance()</tspan><tspan x="6" dy="14.5"># __construct()</tspan><tspan x="6" dy="14.5"># readFromCache()</tspan><tspan x="6" dy="14.5"># readFromDB()</tspan></text></g>

<g id="n_ilIAS" transform="translate(3488,1823)"><rect class="b" width="136" height="231"/><text class="t" x="68" y="18">ilIAS</text><line class="s" x1="0" y1="26" x2="136" y2="26"/><text y="26.5"><tspan x="6" dy="14.5">+ $account</tspan><tspan x="6" dy="14.5">+ $ini</tspan><tspan x="6" dy="14.5">+ $ini_ilias</tspan><tspan x="6" dy="14.5">+ $db</tspan><tspan x="6" dy="14.5">+ $error_obj</tspan></text><line class="s" x1="0" y1="106.5" x2="136" y2="106.5"/><text y="107"><tspan x="6" dy="14.5">+ __construct()</tspan><tspan x="6" dy="14.5">+ getSetting()</tspan><tspan x="6" dy="14.5">+ deleteSetting()</tspan><tspan x="6" dy="14.5">+ getAllSettings()</tspan><tspan x="6" dy="14.5">+ setSetting()</tspan><tspan x="6" dy="14.5">+ getClientId()</tspan><tspan x="6" dy="14.5">+ raiseError()</tspan><tspan x="6" dy="14.5"># getSettingObject()</tspan></text></g>

<g id="n_ilLanguage" transform="translate(3347,2390)"><rect class="b" width="179" height="319"/><text class="t" x="89" y="18">ilLanguage</text><line class="s" x1="0" y1="26" x2="179" y2="26"/><line class="s" x1="0" y1="50" x2="179" y2="50"/><text y="50.5"><tspan x="6" dy="14.5">+ __construct()</tspan><tspan x="6" dy="14.5">+ getLangKey()</tspan><tspan x="6" dy="14.5">+ getDefaultLanguage()</tspan><tspan x="6" dy="14.5">+ getTextDirection()</tspan><tspan x="6" dy="14.5">+ getContentLanguage()</tspan><tspan x="6" dy="14.5">+ txtlng()</tspan><tspan x="6" dy="14.5">+ txt()</tspan><tspan x="6" dy="14.5">+ exists()</tspan><tspan x="6" dy="14.5">+ loadLanguageModule()</tspan><tspan x="6" dy="14.5">+ getInstalledLanguages()</tspan><tspan x="6" dy="14.5">and 7 more...</tspan><tspan x="6" dy="14.5">+ _getInstalledLanguages()</tspan><tspan x="6" dy="14.5">+ _lookupEntry()</tspan><tspan x="6" dy="14.5">+ lookupId()</tspan><tspan x="6" dy="14.5">+ getFallbackInstance()</tspan><tspan x="6" dy="14.5">+ getGlobalInstance()</tspan><tspan x="6" dy="14.5"># logUsage()</tspan><tspan x="6" dy="14.5"># isUsageLogEnabled()</tspan></text></g>

<g id="n_ilObjectDefinition" transform="translate(5090,1756)"><rect class="b" width="217" height="363"/><text class="t" x="108" y="18">ilObjectDefinition</text><line class="s" x1="0" y1="26" x2="217" y2="26"/><line class="s" x1="0" y1="50" x2="217" y2="50"/><text y="50.5"><tspan x="6" dy="14.5">+ __construct()</tspan><tspan x="6" dy="14.5">+ readDefinitionData()</tspan><tspan x="6" dy="14.5">+ getClassName()</tspan><tspan x="6" dy="14.5">+ getLocation()</tspan><tspan x="6" dy="14.5">+ getGroup()</tspan><tspan x="6" dy="14.5">+ getGroupOfObj()</tspan><tspan x="6" dy="14.5">+ hasCheckbox()</tspan><tspan x="6" dy="14.5">+ getTranslationType()</tspan><tspan x="6" dy="14.5">+ stopInheritance()</tspan><tspan x="6" dy="14.5">+ getDevMode()</tspan><tspan x="6" dy="14.5">and 38 more...</tspan><tspan x="6" dy="14.5">+ getRepositoryObjectTypes</tspan><tspan x="6" dy="14.5">ForComponent()</tspan><tspan x="6" dy="14.5">+ getComponentForType()</tspan><tspan x="6" dy="14.5">+ getGroupedRepositoryObject</tspan><tspan x="6" dy="14.5">Types()</tspan><tspan x="6" dy="14.5"># readDefinitionDataFromCache()</tspan><tspan x="6" dy="14.5"># readDefinitionDataFromDB()</tspan><tspan x="6" dy="14.5"># readPluginData()</tspan><tspan x="6" dy="14.5"># parsePluginData()</tspan><tspan x="6" dy="14.5"># getGroupedPluginObjectTypes()</tspan></text></g>

<g id="n_ilTreeImplementation" transform="translate(5660,1830)"><rect class="b" width="181" height="218"/><text class="t" x="90" y="18">ilTreeImplementation</text><line class="s" x1="0" y1="26" x2="181" y2="26"/><line class="s" x1="0" y1="50" x2="181" y2="50"/><text y="50.5"><tspan x="6" dy="14.5">+ getSubTreeIds()</tspan><tspan x="6" dy="14.5">+ getSubTreeQuery()</tspan><tspan x="6" dy="14.5">+ getTrashSubTreeQuery()</tspan><tspan x="6" dy="14.5">+ getRelation()</tspan><tspan x="6" dy="14.5">+ getPathIds()</tspan><tspan x="6" dy="14.5">+ insertNode()</tspan><tspan x="6" dy="14.5">+ deleteTree()</tspan><tspan x="6" dy="14.5">+ moveToTrash()</tspan><tspan x="6" dy="14.5">+ moveTree()</tspan><tspan x="6" dy="14.5">+ getSubtreeInfo()</tspan><tspan x="6" dy="14.5">+ validateParentRelations()</tspan></text></g>

<g id="n_ilAppEventHandler" transform="translate(6019,1887)"><rect class="b" width="129" height="102"/><text class="t" x="64" y="18">ilAppEventHandler</text><line class="s" x1="0" y1="26" x2="129" y2="26"/><line class="s" x1="0" y1="50" x2="129" y2="50"/><text y="50.5"><tspan x="6" dy="14.5">+ __construct()</tspan><tspan x="6" dy="14.5">+ raise()</tspan><tspan x="6" dy="14.5"># initListeners()</tspan></text></g>

<g id="n_ilRbacReview" transform="translate(6374,1721)"><rect class="b" width="220" height="435"/><text class="t" x="110" y="18">ilRbacReview</text><line class="s" x1="0" y1="26" x2="220" y2="26"/><line class="s" x1="0" y1="50" x2="220" y2="50"/><text y="50.5"><tspan x="6" dy="14.5">+ __construct()</tspan><tspan x="6" dy="14.5">+ roleExists()</tspan><tspan x="6" dy="14.5">+ getParentRoleIds()</tspan><tspan x="6" dy="14.5">+ getRoleListByObject()</tspan><tspan x="6" dy="14.5">+ getAssignableRoles()</tspan><tspan x="6" dy="14.5">+ getAssignableRolesInSubtree()</tspan><tspan x="6" dy="14.5">+ getAssignableChildRoles()</tspan><tspan x="6" dy="14.5">+ getNumberOfAssignedUsers()</tspan><tspan x="6" dy="14.5">+ assignedUsers()</tspan><tspan x="6" dy="14.5">+ isAssigned()</tspan><tspan x="6" dy="14.5">and 43 more...</tspan><tspan x="6" dy="14.5">+ _getOperationIdsByName()</tspan><tspan x="6" dy="14.5">+ _getOperationIdByName()</tspan><tspan x="6" dy="14.5">+ lookupCreateOperationIds()</tspan><tspan x="6" dy="14.5">+ _getOperationList()</tspan><tspan x="6" dy="14.5">+ _groupOperationsByClass()</tspan><tspan x="6" dy="14.5">+ _getCustomRBACOperationId()</tspan><tspan x="6" dy="14.5">+ _isRBACOperation()</tspan><tspan x="6" dy="14.5"># __getParentRoles()</tspan><tspan x="6" dy="14.5"># __setTemplateFilter()</tspan><tspan x="6" dy="14.5"># __setRoleType()</tspan><tspan x="6" dy="14.5"># __setProtectedStatus()</tspan><tspan x="6" dy="14.5">- getAssignableRolesGenerator()</tspan><tspan x="6" dy="14.5">- setRoleTypeAndProtection()</tspan><tspan x="6" dy="14.5">- buildRoleType()</tspan><tspan x="6" dy="14.5">- buildProtectionByStringValue()</tspan></text></g>

<g id="n_ilTree" transform="translate(5652,2395)"><rect class="b" width="197" height="303"/><text class="t" x="98" y="18">ilTree</text><line class="s" x1="0" y1="26" x2="197" y2="26"/><text y="26.5"><tspan x="6" dy="14.5"># DEFAULT_GAP</tspan></text><line class="s" x1="0" y1="48.5" x2="197" y2="48.5"/><text y="49"><tspan x="6" dy="14.5">+ __construct()</tspan><tspan x="6" dy="14.5">+ initTreeImplementation()</tspan><tspan x="6" dy="14.5">+ getTreeImplementation()</tspan><tspan x="6" dy="14.5">+ useCache()</tspan><tspan x="6" dy="14.5">+ isCacheUsed()</tspan><tspan x="6" dy="14.5">+ getDepthCache()</tspan><tspan x="6" dy="14.5">+ getParentCache()</tspan><tspan x="6" dy="14.5">+ initLangCode()</tspan><tspan x="6" dy="14.5">+ getTreeTable()</tspan><tspan x="6" dy="14.5">+ getObjectDataTable()</tspan><tspan x="6" dy="14.5">and 69 more...</tspan><tspan x="6" dy="14.5">+ lookupTreesForNode()</tspan><tspan x="6" dy="14.5">+ _removeEntry()</tspan><tspan x="6" dy="14.5"># getLangCode()</tspan><tspan x="6" dy="14.5"># fetchTranslationFromObject</tspan><tspan x="6" dy="14.5">DataCache()</tspan><tspan x="6" dy="14.5">- __renumber()</tspan></text></g>

<g id="n_ilRbacAdmin" transform="translate(6462,2424)"><rect class="b" width="191" height="247"/><text class="t" x="95" y="18">ilRbacAdmin</text><line class="s" x1="0" y1="26" x2="191" y2="26"/><line class="s" x1="0" y1="50" x2="191" y2="50"/><text y="50.5"><tspan x="6" dy="14.5">+ __construct()</tspan><tspan x="6" dy="14.5">+ setBlockedStatus()</tspan><tspan x="6" dy="14.5">+ removeUser()</tspan><tspan x="6" dy="14.5">+ deleteRole()</tspan><tspan x="6" dy="14.5">+ deleteTemplate()</tspan><tspan x="6" dy="14.5">+ deleteLocalRole()</tspan><tspan x="6" dy="14.5">+ assignUserLimited()</tspan><tspan x="6" dy="14.5">+ assignUser()</tspan><tspan x="6" dy="14.5">+ deassignUser()</tspan><tspan x="6" dy="14.5">+ grantPermission()</tspan><tspan x="6" dy="14.5">and 19 more...</tspan><tspan x="6" dy="14.5"># applyMovedObjectDidactic</tspan><tspan x="6" dy="14.5">Templates()</tspan></text></g>

<g id="n_ilObject" transform="translate(5636,2777)"><rect class="b" width="230" height="609"/><text class="t" x="115" y="18">ilObject</text><line class="s" x1="0" y1="26" x2="230" y2="26"/><line class="s" x1="0" y1="50" x2="230" y2="50"/><text y="50.5"><tspan x="6" dy="14.5">+ __construct()</tspan><tspan x="6" dy="14.5">+ withReferences()</tspan><tspan x="6" dy="14.5">+ processAutoRating()</tspan><tspan x="6" dy="14.5">+ read()</tspan><tspan x="6" dy="14.5">+ getId()</tspan><tspan x="6" dy="14.5">+ setId()</tspan><tspan x="6" dy="14.5">+ setRefId()</tspan><tspan x="6" dy="14.5">+ getRefId()</tspan><tspan x="6" dy="14.5">+ getType()</tspan><tspan x="6" dy="14.5">+ setType()</tspan><tspan x="6" dy="14.5">and 39 more...</tspan><tspan x="6" dy="14.5">+ _lookupObjIdByImportId()</tspan><tspan x="6" dy="14.5">+ _lookupImportId()</tspan><tspan x="6" dy="14.5">+ _lookupOwnerName()</tspan><tspan x="6" dy="14.5">+ _getIdForImportId()</tspan><tspan x="6" dy="14.5">+ _getAllReferences()</tspan><tspan x="6" dy="14.5">+ _lookupTitle()</tspan><tspan x="6" dy="14.5">+ lookupOfflineStatus()</tspan><tspan x="6" dy="14.5">+ _lookupOwner()</tspan><tspan x="6" dy="14.5">+ _getIdsForTitle()</tspan><tspan x="6" dy="14.5">+ _lookupDescription()</tspan><tspan x="6" dy="14.5">and 26 more...</tspan><tspan x="6" dy="14.5"># doMDUpdateListener()</tspan><tspan x="6" dy="14.5"># beforeMDUpdateListener()</tspan><tspan x="6" dy="14.5"># doCreateMetaData()</tspan><tspan x="6" dy="14.5"># beforeCreateMetaData()</tspan><tspan x="6" dy="14.5"># doUpdateMetaData()</tspan><tspan x="6" dy="14.5"># beforeUpdateMetaData()</tspan><tspan x="6" dy="14.5"># doDeleteMetaData()</tspan><tspan x="6" dy="14.5"># beforeDeleteMetaData()</tspan><tspan x="6" dy="14.5"># handleAutoRating()</tspan><tspan x="6" dy="14.5"># hasAutoRating()</tspan><tspan x="6" dy="14.5">- appendCopyInfoToTranslations()</tspan><tspan x="6" dy="14.5">- getCallbackForTitlesPerLanguage</tspan><tspan x="6" dy="14.5">Transformation()</tspan><tspan x="6" dy="14.5">- appendNumberOfCopiesToTitle()</tspan><tspan x="6" dy="14.5">- isTitleUnique()</tspan><tspan x="6" dy="14.5">- buildTitleWithoutCopySuffix()</tspan></text></g>

<g id="n_ilObjUser" transform="translate(5649,3461)"><rect class="b" width="200" height="738"/><text class="t" x="100" y="18">ilObjUser</text><line class="s" x1="0" y1="26" x2="200" y2="26"/><text y="26.5"><tspan x="6" dy="14.5">+ $login</tspan><tspan x="6" dy="14.5">+ $gender</tspan><tspan x="6" dy="14.5">+ $utitle</tspan><tspan x="6" dy="14.5">+ $firstname</tspan><tspan x="6" dy="14.5">+ $lastname</tspan><tspan x="6" dy="14.5">+ $fullname</tspan><tspan x="6" dy="14.5">+ $department</tspan><tspan x="6" dy="14.5">+ $street</tspan><tspan x="6" dy="14.5">+ $city</tspan><tspan x="6" dy="14.5">+ $country</tspan><tspan x="6" dy="14.5">and 12 more...</tspan><tspan x="6" dy="14.5"># $time_limit_message</tspan><tspan x="6" dy="14.5"># $last_login</tspan><tspan x="6" dy="14.5"># $passwd</tspan><tspan x="6" dy="14.5"># $password_encoding_type</tspan><tspan x="6" dy="14.5"># $password_salt</tspan><tspan x="6" dy="14.5"># $birthday</tspan><tspan x="6" dy="14.5"># $second_email</tspan><tspan x="6" dy="14.5"># $inactivation_date</tspan><tspan x="6" dy="14.5"># $org_units</tspan><tspan x="6" dy="14.5"># $last_profile_prompt</tspan></text><line class="s" x1="0" y1="338.5" x2="200" y2="338.5"/><text y="339"><tspan x="6" dy="14.5">+ __construct()</tspan><tspan x="6" dy="14.5">+ read()</tspan><tspan x="6" dy="14.5">+ getPasswordEncodingType()</tspan><tspan x="6" dy="14.5">+ setPasswordEncodingType()</tspan><tspan x="6" dy="14.5">+ getPasswordSalt()</tspan><tspan x="6" dy="14.5">+ setPasswordSalt()</tspan><tspan x="6" dy="14.5">+ assignData()</tspan><tspan x="6" dy="14.5">+ saveAsNew()</tspan><tspan x="6" dy="14.5">+ update()</tspan><tspan x="6" dy="14.5">+ writeAccepted()</tspan><tspan x="6" dy="14.5">and 168 more...</tspan><tspan x="6" dy="14.5">+ _lookupFullname()</tspan><tspan x="6" dy="14.5">+ _lookupEmail()</tspan><tspan x="6" dy="14.5">+ _lookupGender()</tspan><tspan x="6" dy="14.5">+ _lookupClientIP()</tspan><tspan x="6" dy="14.5">+ _lookupName()</tspan><tspan x="6" dy="14.5">+ _lookupFields()</tspan><tspan x="6" dy="14.5">+ _lookupLogin()</tspan><tspan x="6" dy="14.5">+ _lookupExternalAccount()</tspan><tspan x="6" dy="14.5">+ _lookupId()</tspan><tspan x="6" dy="14.5">+ _lookupLastLogin()</tspan><tspan x="6" dy="14.5">and 63 more...</tspan><tspan x="6" dy="14.5"># buildTextFromArray()</tspan><tspan x="6" dy="14.5"># readMultiTextFields()</tspan><tspan x="6" dy="14.5"># deleteMultiTextFields()</tspan><tspan x="6" dy="14.5">- _lookup()</tspan><tspan x="6" dy="14.5">- getLoginFromAuth()</tspan></text></g>

<g id="n_ilObjLanguageFolder" transform="translate(6791,3769)"><rect class="b" width="156" height="131"/><text class="t" x="78" y="18">ilObjLanguageFolder</text><line class="s" x1="0" y1="26" x2="156" y2="26"/><line class="s" x1="0" y1="50" x2="156" y2="50"/><text y="50.5"><tspan x="6" dy="14.5">+ __construct()</tspan><tspan x="6" dy="14.5">+ getLanguages()</tspan><tspan x="6" dy="14.5">+ addNewLanguages()</tspan><tspan x="6" dy="14.5">+ removeLanguages()</tspan><tspan x="6" dy="14.5">+ checkAllLanguages()</tspan></text></g>

<g id="n_ilTableGUI" transform="translate(2515,2917)"><rect class="b" width="152" height="333"/><text class="t" x="76" y="18">ilTableGUI</text><line class="s" x1="0" y1="26" x2="152" y2="26"/><text y="26.5"><tspan x="6" dy="14.5">+ $title</tspan><tspan x="6" dy="14.5">+ $order_column</tspan><tspan x="6" dy="14.5">+ $order_direction</tspan><tspan x="6" dy="14.5">+ $footer_style</tspan><tspan x="6" dy="14.5">+ $form_name</tspan><tspan x="6" dy="14.5">+ $base</tspan><tspan x="6" dy="14.5"># $sort_order</tspan><tspan x="6" dy="14.5"># $tpl</tspan></text><line class="s" x1="0" y1="150" x2="152" y2="150"/><text y="150.5"><tspan x="6" dy="14.5">+ __construct()</tspan><tspan x="6" dy="14.5">+ setTemplate()</tspan><tspan x="6" dy="14.5">+ getTemplateObject()</tspan><tspan x="6" dy="14.5">+ setData()</tspan><tspan x="6" dy="14.5">+ getData()</tspan><tspan x="6" dy="14.5">+ setTitle()</tspan><tspan x="6" dy="14.5">+ setHelp()</tspan><tspan x="6" dy="14.5">+ setHeaderNames()</tspan><tspan x="6" dy="14.5">+ getColumnCount()</tspan><tspan x="6" dy="14.5">+ setHeaderVars()</tspan><tspan x="6" dy="14.5">and 29 more...</tspan><tspan x="6" dy="14.5">+ linkbar()</tspan></text></g>

<g id="n_ilTable2GUI" transform="translate(2703,3511)"><rect class="b" width="203" height="637"/><text class="t" x="101" y="18">ilTable2GUI</text><line class="s" x1="0" y1="26" x2="203" y2="26"/><text y="26.5"><tspan x="6" dy="14.5">+ FILTER_NUMBER_RANGE</tspan><tspan x="6" dy="14.5">+ EXPORT_EXCEL</tspan><tspan x="6" dy="14.5"># $requested_tmp_delete</tspan><tspan x="6" dy="14.5"># $requested_nav_par2</tspan><tspan x="6" dy="14.5"># $requested_nav_par</tspan><tspan x="6" dy="14.5"># $requested_nav_par1</tspan><tspan x="6" dy="14.5"># $selected_columns</tspan><tspan x="6" dy="14.5"># $close_command</tspan><tspan x="6" dy="14.5"># $top_anchor</tspan><tspan x="6" dy="14.5"># $optional_filters</tspan><tspan x="6" dy="14.5"># $ext_sort</tspan><tspan x="6" dy="14.5"># $context</tspan><tspan x="6" dy="14.5">and 31 more...</tspan><tspan x="6" dy="14.5">- $unique_id</tspan><tspan x="6" dy="14.5">- $headerHTML</tspan></text><line class="s" x1="0" y1="251.5" x2="203" y2="251.5"/><text y="252"><tspan x="6" dy="14.5">+ __construct()</tspan><tspan x="6" dy="14.5">+ setOpenFormTag()</tspan><tspan x="6" dy="14.5">+ getOpenFormTag()</tspan><tspan x="6" dy="14.5">+ setCloseFormTag()</tspan><tspan x="6" dy="14.5">+ getCloseFormTag()</tspan><tspan x="6" dy="14.5">+ determineLimit()</tspan><tspan x="6" dy="14.5">+ getSelectableColumns()</tspan><tspan x="6" dy="14.5">+ determineSelectedColumns()</tspan><tspan x="6" dy="14.5">+ isColumnSelected()</tspan><tspan x="6" dy="14.5">+ getSelectedColumns()</tspan><tspan x="6" dy="14.5">and 113 more...</tspan><tspan x="6" dy="14.5">+ getAllCommandLimit()</tspan><tspan x="6" dy="14.5"># getRequestedValues()</tspan><tspan x="6" dy="14.5"># prepareOutput()</tspan><tspan x="6" dy="14.5"># isFilterVisible()</tspan><tspan x="6" dy="14.5"># isAdvMDFilter()</tspan><tspan x="6" dy="14.5"># fillRow()</tspan><tspan x="6" dy="14.5"># getFilterValue()</tspan><tspan x="6" dy="14.5"># setFilterValue()</tspan><tspan x="6" dy="14.5"># fillMetaExcel()</tspan><tspan x="6" dy="14.5"># fillHeaderExcel()</tspan><tspan x="6" dy="14.5"># fillRowExcel()</tspan><tspan x="6" dy="14.5"># fillMetaCSV()</tspan><tspan x="6" dy="14.5"># fillHeaderCSV()</tspan><tspan x="6" dy="14.5"># fillRowCSV()</tspan><tspan x="6" dy="14.5">- renderFilter()</tspan></text></g>

<g id="n_ilLanguageTableGUI" transform="translate(4764,4272)"><rect class="f" width="141" height="102"/><text class="t" x="70" y="18">ilLanguageTableGUI</text><line class="s" x1="0" y1="26" x2="141" y2="26"/><line class="s" x1="0" y1="50" x2="141" y2="50"/><text y="50.5"><tspan x="6" dy="14.5">+ __construct()</tspan><tspan x="6" dy="14.5">+ getItems()</tspan><tspan x="6" dy="14.5"># fillRow()</tspan></text></g>
</svg>
